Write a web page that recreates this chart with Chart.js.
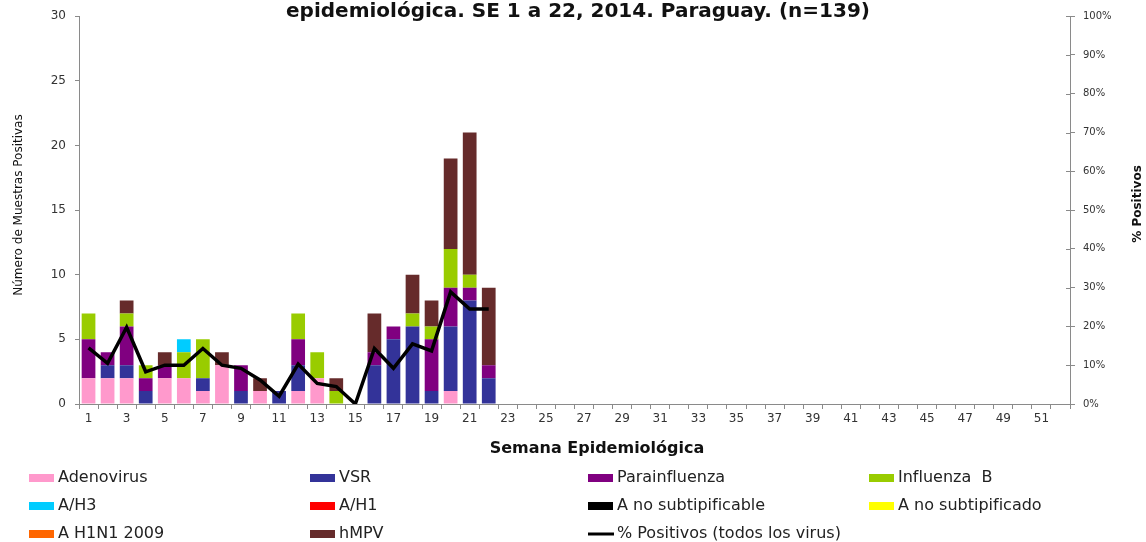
<!DOCTYPE html>
<html lang="es">
<head>
    <meta charset="UTF-8">
    <title>Virus respiratorios por semana epidemiológica</title>
    <script src="https://cdn.jsdelivr.net/npm/chart.js"></script>
    <style>
        body {
            margin: 0;
            background-color: #ffffff;
        }
        #chart {
            display: block;
        }
    </style>
</head>
<body>
    <canvas id="chart" width="1146" height="542"></canvas>

    <script>
        // Semanas 1..52 (categorias del eje X)
        const semanas = Array.from({ length: 52 }, (_, i) => String(i + 1));

        // Muestras positivas por virus, SE 1 a 22
        const adenovirus   = [2, 2, 2, 0, 2, 2, 1, 3, 0, 1, 0, 1, 2, 0, 0, 0, 0, 0, 0, 1, 0, 0];
        const vsr          = [0, 1, 1, 1, 0, 0, 1, 0, 1, 0, 1, 2, 0, 0, 0, 3, 5, 6, 1, 5, 8, 2];
        const parainfluenza= [3, 1, 3, 1, 1, 0, 0, 0, 2, 0, 0, 2, 0, 0, 0, 1, 1, 0, 4, 3, 1, 1];
        const influenzaB   = [2, 0, 1, 1, 0, 2, 3, 0, 0, 0, 0, 2, 2, 1, 0, 0, 0, 1, 1, 3, 1, 0];
        const aH3          = [0, 0, 0, 0, 0, 1, 0, 0, 0, 0, 0, 0, 0, 0, 0, 0, 0, 0, 0, 0, 0, 0];
        const aH1          = [];
        const aNoSubtipificable = [];
        const aNoSubtipificado  = [];
        const aH1N12009    = [];
        const hmpv         = [0, 0, 1, 0, 1, 0, 0, 1, 0, 1, 0, 0, 0, 1, 0, 3, 0, 3, 2, 7, 11, 6];

        // % positivos (todos los virus)
        const pctPositivos = [14.5, 10.5, 19.8, 8.3, 10, 10, 14.3, 10, 9.2, 6.2, 2, 10.3, 5.3, 4.5, 0,
                              14.3, 9.2, 15.5, 13.7, 28.9, 24.5, 24.5];

        const ticksIzq = [0, 5, 10, 15, 20, 25, 30];
        const ticksDer = [0, 10, 20, 30, 40, 50, 60, 70, 80, 90, 100];

        const FONT = "'DejaVu Sans', sans-serif";

        function barSet(label, data, color) {
            return {
                label: label,
                data: data,
                backgroundColor: color,
                borderWidth: 0,
                yAxisID: 'y',
                order: 1,
                barPercentage: 0.72,
                categoryPercentage: 1
            };
        }

        // Title, axis titles and legend grid
        const textosPlugin = {
            id: 'textos',
            afterDraw(chart) {
                const ctx = chart.ctx;
                ctx.save();
                ctx.fillStyle = '#111';

                ctx.font = 'bold 20px ' + FONT;
                ctx.textAlign = 'center';
                ctx.textBaseline = 'middle';
                ctx.fillText('epidemiológica. SE 1 a 22, 2014. Paraguay. (n=139)', 578, 12);

                ctx.font = 'bold 16px ' + FONT;
                ctx.fillText('Semana Epidemiológica', 597, 449);

                ctx.save();
                ctx.translate(19, 205);
                ctx.rotate(-Math.PI / 2);
                ctx.font = '12px ' + FONT;
                ctx.fillText('Número de Muestras Positivas', 0, 0);
                ctx.restore();

                ctx.save();
                ctx.translate(1138, 204);
                ctx.rotate(-Math.PI / 2);
                ctx.font = 'bold 12px ' + FONT;
                ctx.fillText('% Positivos', 0, 0);
                ctx.restore();

                // right axis ticks cross the axis line
                const y2 = chart.scales.y2;
                ctx.strokeStyle = '#8a8a8a';
                ctx.lineWidth = 1;
                ticksDer.forEach(v => {
                    const py = Math.round(y2.getPixelForValue(v)) + 0.5;
                    ctx.beginPath();
                    ctx.moveTo(y2.left - 4, py);
                    ctx.lineTo(y2.left, py);
                    ctx.stroke();
                });

                // legend, 4 columns x 3 rows
                const colX = [29, 310, 588, 869];
                const rowY = [477, 505, 533];
                ctx.font = '16px ' + FONT;
                ctx.textAlign = 'left';
                chart.data.datasets.forEach((ds, i) => {
                    const x = colX[i % 4];
                    const y = rowY[Math.floor(i / 4)];
                    if (ds.type === 'line') {
                        ctx.strokeStyle = ds.borderColor;
                        ctx.lineWidth = 3;
                        ctx.beginPath();
                        ctx.moveTo(x, y + 1);
                        ctx.lineTo(x + 26, y + 1);
                        ctx.stroke();
                    } else {
                        ctx.fillStyle = ds.backgroundColor;
                        ctx.fillRect(x, y - 3, 25, 8);
                    }
                    ctx.fillStyle = '#222';
                    ctx.fillText(ds.label, x + 29, y + 1);
                });
                ctx.restore();
            }
        };

        const config = {
            data: {
                labels: semanas,
                datasets: [
                    barSet('Adenovirus', adenovirus, '#FF99CC'),
                    barSet('VSR', vsr, '#333399'),
                    barSet('Parainfluenza', parainfluenza, '#800080'),
                    barSet('Influenza  B', influenzaB, '#99CC00'),
                    barSet('A/H3', aH3, '#00CCFF'),
                    barSet('A/H1', aH1, '#FF0000'),
                    barSet('A no subtipificable', aNoSubtipificable, '#000000'),
                    barSet('A no subtipificado', aNoSubtipificado, '#FFFF00'),
                    barSet('A H1N1 2009', aH1N12009, '#FF6600'),
                    barSet('hMPV', hmpv, '#662B2B'),
                    {
                        type: 'line',
                        label: '% Positivos (todos los virus)',
                        data: pctPositivos,
                        borderColor: '#000000',
                        backgroundColor: '#000000',
                        borderWidth: 3.5,
                        pointRadius: 0,
                        tension: 0,
                        yAxisID: 'y2',
                        order: 0
                    }
                ].map(d => Object.assign({ type: 'bar' }, d))
            },
            options: {
                responsive: false,
                animation: false,
                layout: { padding: { top: 16, left: 0, right: 0, bottom: 0 } },
                plugins: {
                    legend: { display: false },
                    title: { display: false },
                    tooltip: { enabled: false }
                },
                scales: {
                    x: {
                        stacked: true,
                        grid: { drawOnChartArea: false, drawTicks: true, tickLength: 5, color: '#8a8a8a' },
                        border: { color: '#8a8a8a' },
                        ticks: {
                            autoSkip: false,
                            maxRotation: 0,
                            padding: 3,
                            color: '#333',
                            font: { family: FONT, size: 12 },
                            callback: (v, i) => (i % 2 === 0 ? semanas[i] : '')
                        },
                        afterFit: s => { s.height = 138; }
                    },
                    y: {
                        stacked: true,
                        position: 'left',
                        min: 0,
                        max: 30,
                        afterBuildTicks: s => { s.ticks = ticksIzq.map(v => ({ value: v })); },
                        grid: { drawOnChartArea: false, tickLength: 4, color: '#8a8a8a' },
                        border: { color: '#8a8a8a' },
                        ticks: { padding: 9, color: '#333', font: { family: FONT, size: 12 } },
                        afterFit: s => { s.width = 79; }
                    },
                    y2: {
                        position: 'right',
                        min: 0,
                        max: 100,
                        afterBuildTicks: s => { s.ticks = ticksDer.map(v => ({ value: v })); },
                        grid: { drawOnChartArea: false, tickLength: 5, color: '#8a8a8a' },
                        border: { color: '#8a8a8a' },
                        ticks: {
                            padding: 8,
                            color: '#333',
                            font: { family: FONT, size: 10 },
                            callback: v => v + '%'
                        },
                        afterFit: s => { s.width = 76; }
                    }
                }
            },
            plugins: [textosPlugin]
        };

        const chart = new Chart(document.getElementById('chart'), config);
    </script>
</body>
</html>
